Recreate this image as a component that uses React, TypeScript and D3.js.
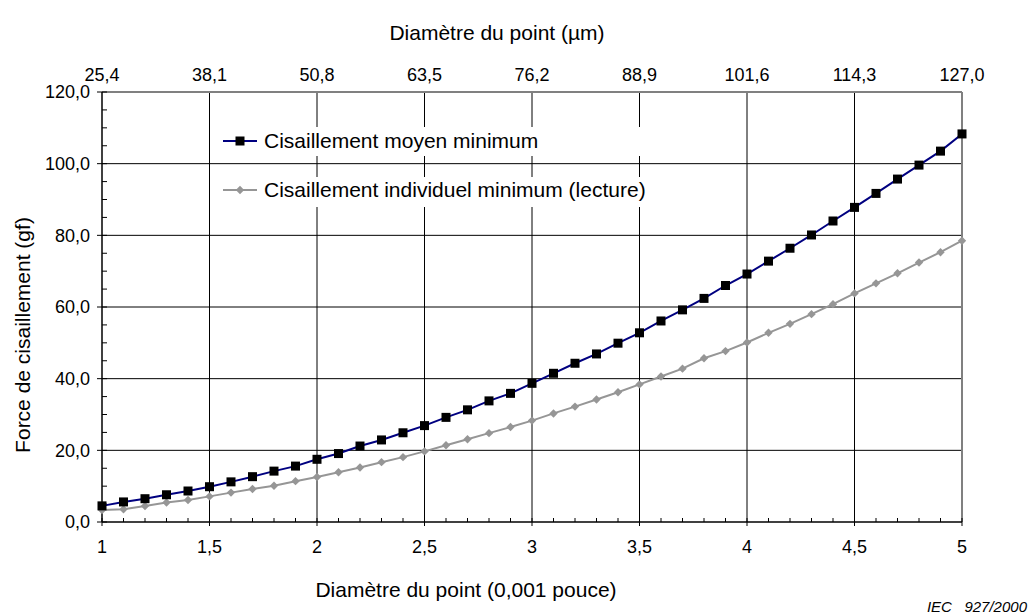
import React from "react";
import * as d3 from "d3";

const diametersMil = [1.0,1.1,1.2,1.3,1.4,1.5,1.6,1.7,1.8,1.9,2.0,2.1,2.2,2.3,2.4,2.5,2.6,2.7,2.8,2.9,3.0,3.1,3.2,3.3,3.4,3.5,3.6,3.7,3.8,3.9,4.0,4.1,4.2,4.3,4.4,4.5,4.6,4.7,4.8,4.9,5.0];
const cisaillementMoyen = [4.5,5.6,6.5,7.6,8.65,9.85,11.2,12.65,14.2,15.6,17.5,19.1,21.2,22.9,24.9,26.9,29.2,31.3,33.8,35.9,38.7,41.5,44.3,46.9,49.9,52.8,56.1,59.2,62.4,66.0,69.2,72.8,76.4,80.1,84.0,87.8,91.7,95.7,99.6,103.5,108.3];
const cisaillementIndividuel = [3.35,3.55,4.45,5.45,6.15,7.15,8.2,9.2,10.1,11.4,12.55,13.9,15.2,16.7,18.1,19.7,21.4,23.1,24.8,26.5,28.3,30.3,32.2,34.2,36.2,38.4,40.6,42.8,45.7,47.7,50.1,52.8,55.3,58.0,60.8,63.8,66.6,69.4,72.4,75.3,78.5];
const xMajorTicks = [1,1.5,2,2.5,3,3.5,4,4.5,5];
const xMinorTicks = [1.1,1.2,1.3,1.4,1.6,1.7,1.8,1.9,2.1,2.2,2.3,2.4,2.6,2.7,2.8,2.9,3.1,3.2,3.3,3.4,3.6,3.7,3.8,3.9,4.1,4.2,4.3,4.4,4.6,4.7,4.8,4.9];
const topTicksUm = [25.4,38.1,50.8,63.5,76.2,88.9,101.6,114.3,127.0];
const yMajorTicks = [0,20,40,60,80,100,120];
const yMinorTicks = [5,10,15,25,30,35,45,50,55,65,70,75,85,90,95,105,110,115];
const legendLabels = ["Cisaillement moyen minimum","Cisaillement individuel minimum (lecture)"];

const W = 1029, H = 614;
const L = 102, R = 962, T = 92, B = 522;
const FONT = "'Liberation Sans', Arial, sans-serif";

const fmt = (v: number, d: number) => v.toFixed(d).replace(".", ",");
const fmtX = (v: number) => (Number.isInteger(v) ? String(v) : fmt(v, 1));

export default function App() {
  const x = d3.scaleLinear().domain([1, 5]).range([L, R]);
  const xTop = d3.scaleLinear().domain([25.4, 127.0]).range([L, R]);
  const y = d3.scaleLinear().domain([0, 120]).range([B, T]);

  const line = (vals: number[]) =>
    d3.line<number>().x((_, i) => x(diametersMil[i])).y((v) => y(v))(vals) || "";

  const sq = 9;
  const dm = 4.2;
  const diamond = (cx: number, cy: number) =>
    `M${cx},${cy - dm}L${cx + dm},${cy}L${cx},${cy + dm}L${cx - dm},${cy}Z`;

  const navy = "#000080";
  const gray = "#969696";

  return (
    <svg width={W} height={H} style={{ position: "absolute", left: 0, top: 0, background: "#fff" }} fontFamily={FONT}>
      <rect x={0} y={0} width={W} height={H} fill="#fff" />
      {/* gridlines */}
      {yMajorTicks.filter((t) => t > 0 && t < 120).map((t) => (
        <line key={"gy" + t} x1={L} x2={R} y1={y(t)} y2={y(t)} stroke="#000" strokeWidth={1} />
      ))}
      {xMajorTicks.filter((t) => t > 1 && t < 5).map((t) => (
        <line key={"gx" + t} x1={x(t)} x2={x(t)} y1={T} y2={B} stroke="#000" strokeWidth={1} />
      ))}
      {/* plot border */}
      <line x1={L} x2={R} y1={T} y2={T} stroke="#808080" strokeWidth={2} />
      <line x1={R} x2={R} y1={T} y2={B} stroke="#808080" strokeWidth={2} />

      {/* legend backgrounds */}
      <rect x={220} y={127} width={440} height={29} fill="#fff" />
      <rect x={220} y={177} width={440} height={30} fill="#fff" />
      <line x1={223} x2={257} y1={141} y2={141} stroke={navy} strokeWidth={2} />
      <rect x={240 - sq / 2} y={141 - sq / 2} width={sq} height={sq} fill="#000" />
      <text x={264} y={141} dy="0.35em" fontSize={21} fill="#000">{legendLabels[0]}</text>
      <line x1={223} x2={257} y1={190} y2={190} stroke={gray} strokeWidth={2} />
      <path d={diamond(240, 190)} fill={gray} />
      <text x={264} y={190} dy="0.35em" fontSize={21} fill="#000">{legendLabels[1]}</text>

      {/* axes */}
      <line x1={L} x2={L} y1={T} y2={B} stroke="#000" strokeWidth={1.5} />
      <line x1={L} x2={R} y1={B} y2={B} stroke="#000" strokeWidth={1.5} />
      {yMinorTicks.map((t) => (
        <line key={"ymi" + t} x1={L} x2={L + 5} y1={y(t)} y2={y(t)} stroke="#000" strokeWidth={1} />
      ))}
      {yMajorTicks.map((t) => (
        <line key={"yma" + t} x1={L - 5} x2={L + 5} y1={y(t)} y2={y(t)} stroke="#000" strokeWidth={1} />
      ))}
      {xMinorTicks.map((t) => (
        <line key={"xmi" + t} x1={x(t)} x2={x(t)} y1={B} y2={B - 4} stroke="#000" strokeWidth={1} />
      ))}
      {xMajorTicks.map((t) => (
        <line key={"xma" + t} x1={x(t)} x2={x(t)} y1={B - 4} y2={B + 4} stroke="#000" strokeWidth={1} />
      ))}

      {/* series */}
      <path d={line(cisaillementIndividuel)} fill="none" stroke={gray} strokeWidth={2} />
      {cisaillementIndividuel.map((v, i) => (
        <path key={"d" + i} d={diamond(x(diametersMil[i]), y(v))} fill={gray} />
      ))}
      <path d={line(cisaillementMoyen)} fill="none" stroke={navy} strokeWidth={2} />
      {cisaillementMoyen.map((v, i) => (
        <rect key={"s" + i} x={x(diametersMil[i]) - sq / 2} y={y(v) - sq / 2} width={sq} height={sq} fill="#000" />
      ))}

      {/* tick labels */}
      {yMajorTicks.map((t) => (
        <text key={"yl" + t} x={90} y={y(t)} dy="0.35em" textAnchor="end" fontSize={18}>{fmt(t, 1)}</text>
      ))}
      {xMajorTicks.map((t) => (
        <text key={"xl" + t} x={x(t)} y={547} dy="0.35em" textAnchor="middle" fontSize={18}>{fmtX(t)}</text>
      ))}
      {topTicksUm.map((t) => (
        <text key={"tl" + t} x={xTop(t)} y={75} dy="0.35em" textAnchor="middle" fontSize={18}>{fmt(t, 1)}</text>
      ))}

      {/* titles */}
      <text x={497} y={33} dy="0.35em" textAnchor="middle" fontSize={21}>Diamètre du point (µm)</text>
      <text x={466} y={590} dy="0.35em" textAnchor="middle" fontSize={21}>Diamètre du point (0,001 pouce)</text>
      <text transform={`translate(23,${335}) rotate(-90)`} dy="0.35em" textAnchor="middle" fontSize={21}>Force de cisaillement (gf)</text>
      <text x={1027} y={607} dy="0.35em" textAnchor="end" fontSize={15} fontStyle="italic" style={{ whiteSpace: "pre" }}>{"IEC   927/2000"}</text>
    </svg>
  );
}
